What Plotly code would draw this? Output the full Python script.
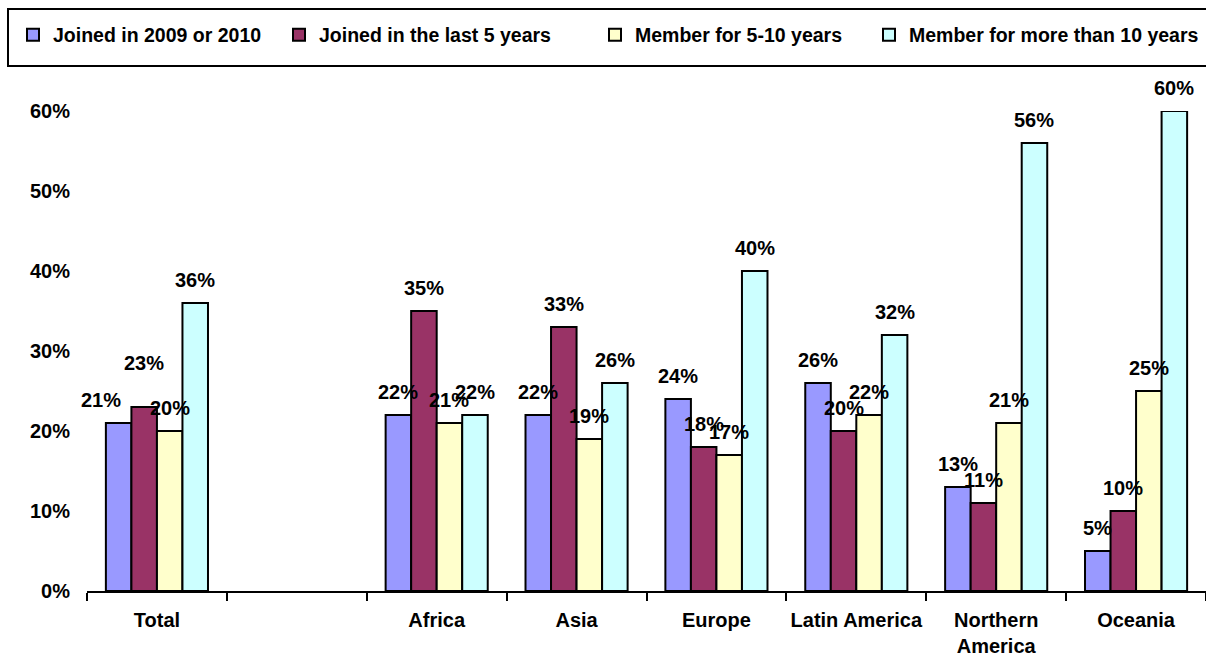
import plotly.graph_objects as go

categories = ["Total", " ", "Africa", "Asia", "Europe", "Latin America", "Northern<br>America", "Oceania"]
series_names = ["Joined in 2009 or 2010", "Joined in the last 5 years",
                "Member for 5-10 years", "Member for more than 10 years"]
joined_2009_2010 = [21, None, 22, 22, 24, 26, 13, 5]
joined_last_5 = [23, None, 35, 33, 18, 20, 11, 10]
member_5_10 = [20, None, 21, 19, 17, 22, 21, 25]
member_10_plus = [36, None, 22, 26, 40, 32, 56, 60]
series_values = [joined_2009_2010, joined_last_5, member_5_10, member_10_plus]
colors = ["#9999FF", "#993366", "#FFFFCC", "#CCFFFF"]

W, H = 1206, 654
ML, MR, MT, MB = 87, 0, 111, 63
PW, PH = W - ML - MR, H - MT - MB
BARGAP = 0.27
FONT = "Liberation Sans, Arial, sans-serif"
FS = 20
LEG_FS = 19.5
legend_x_px = [13, 279, 595, 869]   # left edge of each legend entry
legend_ids = ["legend", "legend2", "legend3", "legend4"]

fig = go.Figure()
for name, vals, col, lid in zip(series_names, series_values, colors, legend_ids):
    fig.add_trace(go.Bar(
        x=categories,
        y=[None if v is None else v / 100 for v in vals],
        name=name, legend=lid,
        marker=dict(color=col, line=dict(color="black", width=2)),
        hoverinfo="skip",
    ))

# data labels (manually nudged labels as in the original)
label_nudge = {(0, 0): (-18, 0), (1, 0): (0, 21)}
cat_w = PW / len(categories)
bar_w = cat_w * (1 - BARGAP) / len(series_values)
annotations = []
for i, vals in enumerate(series_values):
    for j, v in enumerate(vals):
        if v is None:
            continue
        dx, dy = label_nudge.get((i, j), (0, 0))
        annotations.append(dict(
            x=categories[j], y=v / 100, xref="x", yref="y",
            text=f"{v}%", showarrow=False,
            xanchor="center", yanchor="bottom",
            xshift=(i - 1.5) * bar_w + dx, yshift=10 + dy,
            font=dict(family=FONT, size=FS, color="black", weight="bold"),
        ))

# legend frame
def px_x(p):
    return (p - ML) / PW

def px_y(p):
    return (H - MB - p) / PH

shapes = [dict(type="rect", xref="paper", yref="paper",
               x0=px_x(8), x1=px_x(1215), y0=px_y(66), y1=px_y(9),
               line=dict(color="black", width=2), fillcolor="rgba(0,0,0,0)")]

legend_layout = {}
for lid, lx in zip(legend_ids, legend_x_px):
    legend_layout[lid] = dict(
        orientation="h", xref="container", yref="container",
        x=lx / W, xanchor="left", y=1 - 35 / H, yanchor="middle",
        itemwidth=30,
        font=dict(family=FONT, size=LEG_FS, color="black", weight="bold"),
        bgcolor="rgba(0,0,0,0)", borderwidth=0)

fig.update_layout(
    width=W, height=H,
    margin=dict(l=ML, r=MR, t=MT, b=MB, autoexpand=False),
    paper_bgcolor="white", plot_bgcolor="white",
    barmode="group", bargap=BARGAP, bargroupgap=0,
    font=dict(family=FONT, size=FS, color="black", weight="bold"),
    showlegend=True,
    annotations=annotations,
    shapes=shapes,
    xaxis=dict(type="category", categoryorder="array", categoryarray=categories,
               range=[-0.5, len(categories) - 0.5],
               showline=True, linecolor="black", linewidth=2,
               ticks="outside", tickson="boundaries", ticklen=8, tickwidth=2,
               tickcolor="black", showgrid=False, ticklabelstandoff=10,
               tickangle=0, automargin=False,
               tickfont=dict(family=FONT, size=FS, color="black", weight="bold")),
    yaxis=dict(range=[0, 0.6], dtick=0.1, tickformat=".0%",
               showline=False, showgrid=False, zeroline=False, ticks="",
               ticklabelstandoff=16, automargin=False,
               tickfont=dict(family=FONT, size=FS, color="black", weight="bold")),
    **legend_layout,
)

fig.write_html("out.html",
               config={"displayModeBar": False},
               post_script="document.body.style.margin='0';")
